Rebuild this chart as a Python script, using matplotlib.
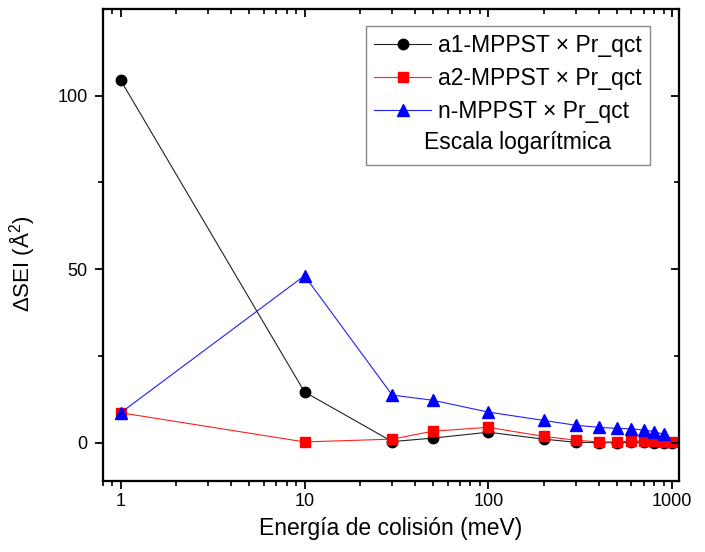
import matplotlib
matplotlib.use("Agg")
import matplotlib.pyplot as plt
from matplotlib.lines import Line2D
from matplotlib.transforms import IdentityTransform

plt.rcParams['font.family'] = ['Liberation Sans', 'DejaVu Sans']
plt.rcParams['mathtext.fontset'] = 'custom'
plt.rcParams['mathtext.rm'] = 'Liberation Sans'
plt.rcParams['mathtext.it'] = 'Liberation Sans:italic'

energy = [1, 10, 30, 50, 100, 200, 300, 400, 500, 600, 700, 800, 900, 1000]
energy_n = [1, 10, 30, 50, 100, 200, 300, 400, 500, 600, 700, 800, 900]
a1_vals = [104.4, 14.6, 0.3, 1.3, 3.0, 1.0, 0.1, 0.0, 0.0, 0.1, 0.1, 0.0, 0.0, 0.0]
a2_vals = [8.6, 0.2, 1.0, 3.3, 4.4, 1.8, 0.7, 0.2, 0.2, 0.4, 0.5, 0.4, 0.3, 0.2]
n_vals = [8.6, 48.1, 13.7, 12.2, 8.8, 6.4, 5.0, 4.4, 4.1, 4.0, 3.6, 3.2, 2.4]

labels = ['a1-MPPST × Pr_qct', 'a2-MPPST × Pr_qct', 'n-MPPST × Pr_qct', 'Escala logarítmica']
xlabel = 'Energía de colisión (meV)'
ylabel = 'ΔSEI (Å$^{2}$)'

fig = plt.figure(figsize=(7.05, 5.52), dpi=100)
ax = fig.add_axes([0.146, 0.129, 0.817, 0.855])

l1, = ax.plot(energy, a1_vals, color='#222222', lw=0.8, marker='o', ms=7.5,
              mfc='black', mec='black', label=labels[0])
l2, = ax.plot(energy, a2_vals, color='#ff2020', lw=0.8, marker='s', ms=6.5,
              mfc='#ff0000', mec='#ff0000', label=labels[1])
l3, = ax.plot(energy_n, n_vals, color='#2020ff', lw=0.8, marker='^', ms=8.5,
              mfc='#0000ff', mec='#0000ff', label=labels[2])

ax.set_xscale('log')
xlim = (0.8, 1090)
ylim = (-11, 125)
ax.set_xlim(*xlim)
ax.set_ylim(*ylim)
ax.set_xticks([1, 10, 100, 1000])
ax.set_xticklabels(['1', '10', '100', '1000'])
ax.set_yticks([0, 50, 100])
ax.set_yticks([25, 75], minor=True)

for s in ax.spines.values():
    s.set_linewidth(1.5)

ax.tick_params(which='major', direction='out', length=6, width=1.3, labelsize=13)
ax.tick_params(axis='x', which='major', pad=3)
ax.tick_params(axis='y', which='major', pad=5)
ax.tick_params(which='minor', direction='out', length=3.5, width=1.2)

# mirrored inward ticks on top and right
axt = ax.twiny()
axt.set_xscale('log')
axt.set_xlim(*xlim)
axt.set_xticks([1, 10, 100, 1000])
axt.tick_params(which='major', direction='in', length=6, width=1.3, labeltop=False)
axt.tick_params(which='minor', direction='in', length=3.5, width=1.2)
axr = ax.twinx()
axr.set_ylim(*ylim)
axr.set_yticks([0, 50, 100])
axr.set_yticks([25, 75], minor=True)
axr.tick_params(which='major', direction='in', length=6, width=1.3, labelright=False)
axr.tick_params(which='minor', direction='in', length=3.5, width=1.2)
for a in (axt, axr):
    for s in a.spines.values():
        s.set_linewidth(1.5)

ax.set_xlabel(xlabel, fontsize=16.5, labelpad=5)
ax.set_ylabel(ylabel, fontsize=16)
ax.yaxis.set_label_coords(-0.1146, 0.46)

blank = Line2D([], [], linestyle='none', marker=None)
leg = axr.legend([l1, l2, l3, blank], labels, loc='upper right',
                 bbox_to_anchor=(0.95, 0.964), borderaxespad=0, fontsize=16.5,
                 frameon=True, fancybox=False, framealpha=1, edgecolor='#888888',
                 handlelength=2.5, handletextpad=0.3, labelspacing=0.45,
                 borderpad=0.35)
leg.get_frame().set_linewidth(1.0)

# shift the last legend line (no handle) slightly to the left, as in the reference
fig.canvas.draw()
t = leg.get_texts()[3]
x, y = t.get_transform().transform(t.get_position())
t.set_visible(False)
fig.text(x - 14, y + 3, t.get_text(), transform=IdentityTransform(),
         ha=t.get_ha(), va=t.get_va(), fontsize=16.5, zorder=10)

fig.savefig('out.png', dpi=100)
